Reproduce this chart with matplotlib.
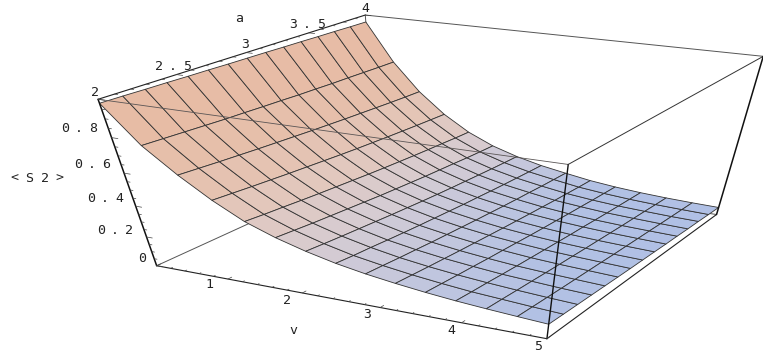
import numpy as np
import matplotlib
matplotlib.use('Agg')
import matplotlib.pyplot as plt
from matplotlib.collections import PolyCollection
from matplotlib.colors import LinearSegmentedColormap
from matplotlib.text import Text
from matplotlib.transforms import IdentityTransform

# ---- data ----
v_values = [0, 5/14, 10/14, 15/14, 20/14, 25/14, 30/14, 35/14, 40/14, 45/14, 50/14, 55/14, 60/14, 65/14, 5]
a_values = [2, 2+1/7, 2+2/7, 2+3/7, 2+4/7, 2+5/7, 2+6/7, 3, 3+1/7, 3+2/7, 3+3/7, 3+4/7, 3+5/7, 3+6/7, 4]
# one row per a value, one column per v value
s2_values = [
 [.980,.780,.640,.520,.420,.350,.295,.250,.215,.187,.163,.143,.127,.113,.100],
 [.979,.775,.632,.511,.410,.340,.285,.240,.207,.179,.156,.136,.122,.108,.096],
 [.977,.770,.624,.502,.402,.330,.276,.233,.198,.171,.149,.131,.116,.103,.092],
 [.976,.765,.617,.494,.393,.322,.268,.224,.191,.164,.143,.124,.111,.098,.088],
 [.974,.760,.610,.486,.385,.314,.260,.216,.183,.157,.136,.118,.105,.094,.084],
 [.973,.757,.604,.479,.378,.306,.252,.209,.177,.151,.131,.113,.100,.090,.080],
 [.971,.753,.598,.472,.371,.298,.245,.203,.171,.145,.125,.108,.096,.086,.076],
 [.970,.750,.592,.465,.364,.292,.238,.197,.165,.139,.119,.103,.091,.081,.073],
 [.969,.746,.587,.459,.358,.286,.232,.191,.160,.134,.114,.098,.087,.078,.070],
 [.967,.744,.582,.454,.353,.280,.227,.187,.155,.129,.110,.095,.083,.074,.066],
 [.966,.741,.578,.449,.348,.276,.223,.182,.151,.125,.105,.090,.079,.071,.064],
 [.964,.740,.574,.445,.344,.272,.219,.178,.148,.120,.102,.086,.076,.067,.060],
 [.963,.738,.570,.441,.341,.267,.215,.175,.144,.117,.098,.083,.073,.064,.058],
 [.961,.736,.567,.438,.337,.264,.212,.172,.142,.114,.095,.080,.069,.061,.054],
 [.960,.735,.565,.435,.335,.262,.210,.170,.140,.112,.092,.077,.066,.058,.052],
]
v_labels = ['1', '2', '3', '4', '5']
a_labels = ['2', '2.5', '3', '3.5', '4']
s2_labels = ['0', '0.2', '0.4', '0.6', '0.8']

# ---- camera: perspective view calibrated on the corners of the bounding box ----
box = np.array([[0,2,0],[5,2,0],[5,4,0],[0,2,1],[0,4,1],[5,4,1],[5,2,1]], float)
pix = np.array([[157,266],[546,339],[717,214],[98,99],[365,15],[763,57],[569,164]], float)
rows = []
for (X,Y,Z),(u,w) in zip(box, pix):
    rows.append([X,Y,Z,1,0,0,0,0,-u*X,-u*Y,-u*Z,-u])
    rows.append([0,0,0,0,X,Y,Z,1,-w*X,-w*Y,-w*Z,-w])
P = np.linalg.svd(np.array(rows))[2][-1].reshape(3,4)

def project(x, y, z):
    h = P @ np.array([x, y, z, 1.0])
    return h[:2] / h[2]

class WideText(Text):
    """Text with the wide letter pitch of the reference."""
    def __init__(self, *args, pitch=14.0, **kw):
        super().__init__(*args, **kw)
        self.pitch = pitch
    def draw(self, renderer):
        x, y = self.get_transform().transform(self.get_position())
        s = self.get_text()
        x0 = x - self.pitch * (len(s) - 1) / 2
        for k, ch in enumerate(s):
            t = Text(x0 + k * self.pitch, y, ch, transform=IdentityTransform(),
                     fontproperties=self.get_fontproperties(), color=self.get_color(),
                     ha='center', va='center')
            t.set_figure(self.get_figure())
            t.draw(renderer)

fig = plt.figure(figsize=(7.63, 3.54), dpi=100)
ax = fig.add_axes([0, 0, 1, 1])
ax.set_xlim(0, 763); ax.set_ylim(354, 0); ax.axis('off')

def edge(p, q, lw, color='#222222', z=1):
    a, b = project(*p), project(*q)
    ax.plot([a[0], b[0]], [a[1], b[1]], color=color, lw=lw, zorder=z, solid_capstyle='round')

# box edges behind the surface
edge((0,2,0), (0,4,0), 0.7, '#555555', 1)
edge((0,4,0), (5,4,0), 0.7, '#555555', 1)
edge((0,4,0), (0,4,1), 0.7, '#555555', 1)

# surface
S = np.array(s2_values)
polys, vals = [], []
for i in range(len(a_values) - 1):
    for j in range(len(v_values) - 1):
        corners = [(j,i),(j+1,i),(j+1,i+1),(j,i+1)]
        polys.append([project(v_values[c], a_values[r], S[r,c]) for c, r in corners])
        vals.append(np.mean([S[r,c] for c, r in corners]))
anchors = [(0.0,'#AEBFE6'),(0.10,'#B2C1E4'),(0.18,'#C4C7DD'),(0.28,'#D6CCD2'),
           (0.42,'#E2C8BE'),(0.62,'#E6C0AC'),(1.0,'#E8BAA2')]
cmap = LinearSegmentedColormap.from_list('shade', anchors)
ax.add_collection(PolyCollection(polys, array=np.array(vals), cmap=cmap, clim=(0,1),
                                 edgecolors='#333333', linewidths=0.6, zorder=2))

# box edges in front of the surface
edge((0,2,1), (5,2,1), 0.6, '#5a5555', 3)
edge((5,2,1), (5,2,0), 1.0, '#111111', 3)
edge((0,2,0), (5,2,0), 0.8, '#222222', 3)
edge((5,2,0), (5,4,0), 0.8, '#222222', 3)
edge((0,2,0), (0,2,1), 1.1, '#111111', 3)
edge((0,2,1), (0,4,1), 0.8, '#222222', 3)
edge((0,4,1), (5,4,1), 0.7, '#555555', 3)
edge((5,4,1), (5,2,1), 0.7, '#333333', 3)
edge((5,4,1), (5,4,0), 1.1, '#111111', 3)

# ticks
for t in np.arange(0, 5.01, 0.2):
    L = 0.03 if abs(t - round(t)) < 1e-6 else 0.015
    edge((t,2,0), (t,2+L,0), 0.5, '#444444', 3)
for t in np.arange(2, 4.01, 0.1):
    L = 0.08 if abs(t*2 - round(t*2)) < 1e-6 else 0.04
    edge((0,t,1), (L,t,1), 0.5, '#444444', 3)
for t in np.arange(0, 0.99, 0.05):
    L = 0.08 if abs(t*5 - round(t*5)) < 1e-6 else 0.04
    edge((0,2,t), (L,2,t), 0.5, '#444444', 3)

# labels
font = dict(family='DejaVu Sans Mono', fontsize=9.5, color='#222222', zorder=4)
v_pos = [(209,285),(287,300),(367,314),(451,330),(538,346)]
a_pos = [(95,92),(173,67),(245,45),(307,25),(365,9)]
s_pos = [(142,259),(115,230),(105,198),(92,165),(79,128)]
for lab, pos in zip(v_labels + a_labels + s2_labels, v_pos + a_pos + s_pos):
    ax.add_artist(WideText(pos[0], pos[1], lab, **font))
ax.add_artist(WideText(239, 19, 'a', **font))
ax.add_artist(WideText(293, 331, 'v', **font))
ax.add_artist(WideText(37, 178, '<S2>', pitch=15.0, **font))

fig.savefig('out.png', dpi=100)
